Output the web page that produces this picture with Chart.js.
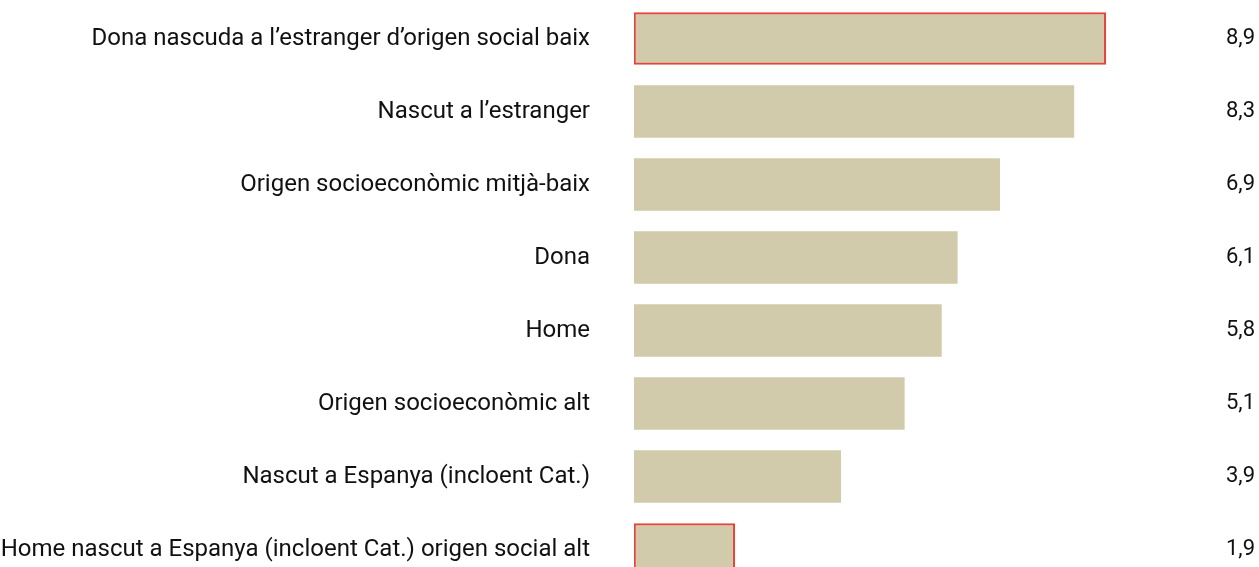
<!DOCTYPE html>
<html>
<head>
<meta charset="utf-8">
<script src="https://cdn.jsdelivr.net/npm/chart.js@4/dist/chart.umd.min.js"></script>
<style>
  html, body { margin: 0; padding: 0; background: #fff; }
  #wrap { width: 1259px; height: 567px; overflow: hidden; }
</style>
</head>
<body>
<div id="wrap"><canvas id="chart" width="1259" height="588"></canvas></div>
<script>
// ---- data ----
const categories = [
  "Dona nascuda a l’estranger d’origen social baix",
  "Nascut a l’estranger",
  "Origen socioeconòmic mitjà-baix",
  "Dona",
  "Home",
  "Origen socioeconòmic alt",
  "Nascut a Espanya (incloent Cat.)",
  "Home nascut a Espanya (incloent Cat.) origen social alt"
];
const values = [8.9, 8.3, 6.9, 6.1, 5.8, 5.1, 3.9, 1.9];
const highlighted = [true, false, false, false, false, false, false, true];

const valueLabels = values.map(v => v.toFixed(1).replace(".", ","));

const FILL = "#d1cbab";
const RED = "#e8433a";
const FONT = "'Source Sans Pro', Roboto, 'Noto Sans', sans-serif";

// drop the label half-height padding the axes add above/below the chart area
function noVertPad(s) {
  s.paddingTop = 0;
  s.paddingBottom = 0;
}

new Chart(document.getElementById("chart"), {
  type: "bar",
  data: {
    labels: categories,
    datasets: [{
      data: values,
      backgroundColor: FILL,
      borderColor: highlighted.map(h => h ? RED : FILL),
      borderWidth: highlighted.map(h => h ? 2 : 0),
      borderSkipped: false,
      barThickness: 52,
      yAxisID: "y"
    }]
  },
  options: {
    indexAxis: "y",
    responsive: false,
    animation: false,
    layout: { padding: { top: 2, bottom: 2, left: 0, right: 4 } },
    plugins: { legend: { display: false }, tooltip: { enabled: false } },
    scales: {
      x: { min: 0, max: 10, display: false },
      y: {
        position: "left",
        grid: { display: false, drawTicks: false },
        border: { display: false },
        ticks: { padding: 44, color: "#111", font: { family: FONT, size: 24 } },
        afterFit: s => { s.width = 634; noVertPad(s); }
      },
      y2: {
        type: "category",
        position: "right",
        labels: valueLabels,
        grid: { display: false, drawTicks: false },
        border: { display: false },
        ticks: { crossAlign: "far", color: "#111", font: { family: FONT, size: 22 } },
        afterFit: s => { s.width = 91; noVertPad(s); }
      }
    }
  }
});
</script>
</body>
</html>
